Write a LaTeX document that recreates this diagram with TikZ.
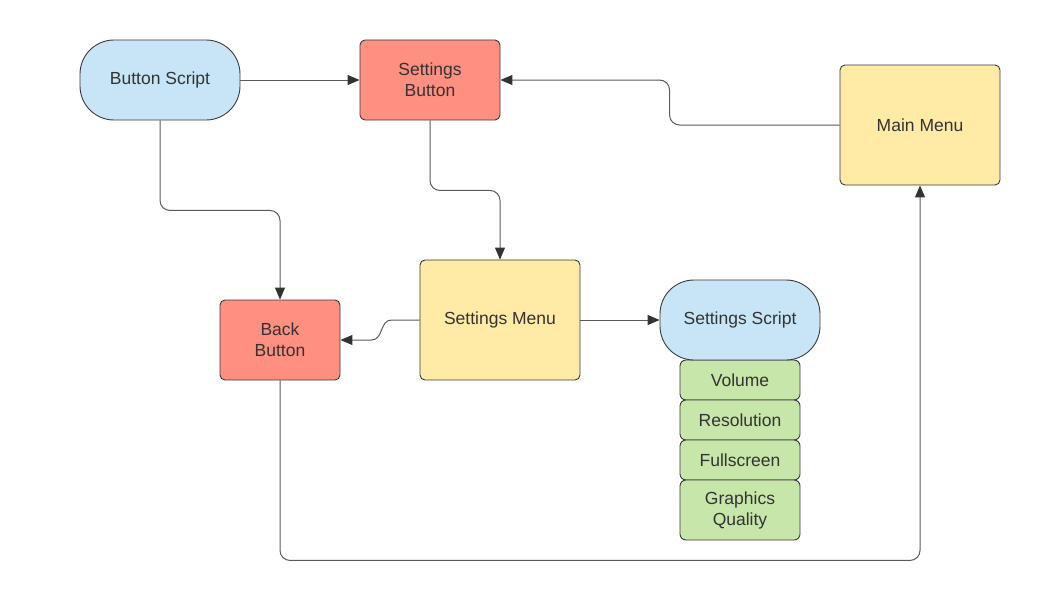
\documentclass[tikz,border=0pt]{standalone}
\usepackage{fontspec}
\setmainfont{Liberation Sans}
\usetikzlibrary{arrows.meta,positioning}
\definecolor{cblue}{HTML}{C7E5F7}
\definecolor{cred}{HTML}{FF8F80}
\definecolor{cyel}{HTML}{FFEAA6}
\definecolor{cgreen}{HTML}{C7E6A9}
\definecolor{cedge}{HTML}{3A3A3A}
\definecolor{cline}{HTML}{5A5A5A}
\definecolor{ctext}{HTML}{333333}
\tikzset{
  box/.style={draw=cedge, line width=0.9pt, rectangle, inner sep=0pt, align=center,
    text=ctext, font=\fontsize{17.5}{21}\selectfont},
  pill/.style={box, fill=cblue, rounded corners=34pt, minimum width=160pt, minimum height=80pt},
  redbox/.style={box, fill=cred, rounded corners=5pt},
  yelbox/.style={box, fill=cyel, rounded corners=5pt, minimum width=160pt, minimum height=120pt},
  grnbox/.style={box, fill=cgreen, rounded corners=6pt, minimum width=120pt},
  conn/.style={draw=cline, line width=1pt, rounded corners=10pt,
    -{Triangle[length=12pt,width=10pt,fill=ctext,color=ctext]}},
}
\begin{document}
\begin{tikzpicture}[x=1pt,y=-1pt]
\useasboundingbox (0,0) rectangle (1048,610);
\node[pill] (bs) at (160,80) {Button Script};
\node[redbox, minimum width=140pt, minimum height=80pt] (sb) at (430,80) {Settings\\Button};
\node[yelbox] (mm) at (920,125) {Main Menu};
\node[yelbox] (sm) at (500,320) {Settings Menu};
\node[redbox, minimum width=120pt, minimum height=80pt] (bb) at (280,340) {Back\\Button};
\node[grnbox, minimum height=40pt] (vol) at (740,380) {Volume};
\node[grnbox, minimum height=40pt] (res) at (740,420) {Resolution};
\node[grnbox, minimum height=40pt] (fs) at (740,460) {Fullscreen};
\node[grnbox, minimum height=60pt] (gq) at (740,510) {Graphics\\Quality};
\node[pill] (ss) at (740,320) {Settings Script};

\draw[conn] (bs.east) -- (sb.west);
\draw[conn] (mm.west) -- ++(-170,0) |- (sb.east);
\draw[conn] (sb.south) -- ++(0,70) -| (sm.north);
\draw[conn] (bs.south) -- ++(0,90) -| (bb.north);
\draw[conn, rounded corners=0pt] (sm.west) -- ([xshift=-28pt]sm.west)
  .. controls ([xshift=-40pt]sm.west) and ([xshift=-36pt,yshift=-20pt]sm.west) .. ([xshift=-48pt,yshift=-20pt]sm.west)
  -- (bb.east);
\draw[conn] (sm.east) -- (ss.west);
\draw[conn] (bb.south) -- ++(0,180) -| (mm.south);
\end{tikzpicture}
\end{document}
